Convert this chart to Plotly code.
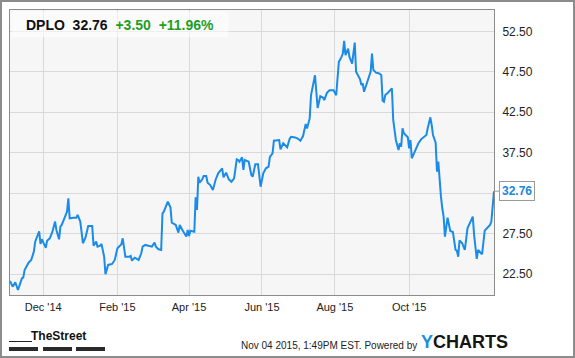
import pandas as pd
import plotly.graph_objects as go

# ---------------- data ----------------
start_date = "2014-11-04"
# day offsets from start_date (calendar days) and closing prices
day_offsets = [0, 2, 4, 6, 9, 10, 11, 14, 16, 18, 19, 21, 22, 23, 24, 26, 27, 28, 30, 32,
               34, 35, 37, 38, 39, 41, 42, 43, 44, 45, 48, 50, 51, 53, 55, 57, 59, 62, 63, 65,
               66, 68, 69, 71, 72, 74, 77, 79, 81, 83, 84, 85, 87, 90, 91, 92, 94, 95, 97, 99,
               100, 102, 105, 107, 109, 110, 112, 114, 115, 116, 119, 121, 122, 125, 127, 128, 130, 131, 133, 134,
               135, 136, 139, 140, 141, 142, 143, 145, 146, 148, 149, 151, 153, 155, 157, 160, 161, 163, 165, 167,
               169, 171, 172, 173, 175, 176, 177, 180, 182, 183, 185, 187, 189, 191, 193, 195, 196, 198, 199, 203,
               204, 206, 209, 211, 212, 215, 217, 219, 221, 223, 224, 226, 227, 230, 231, 232, 234, 236, 237, 239,
               241, 244, 246, 248, 250, 251, 252, 253, 255, 256, 258, 260, 261, 264, 265, 266, 267, 269, 271, 272,
               273, 274, 276, 278, 280, 281, 282, 283, 285, 287, 288, 289, 290, 291, 293, 294, 295, 296, 297, 298,
               300, 301, 302, 303, 305, 308, 310, 312, 314, 315, 317, 318, 319, 321, 322, 323, 324, 325, 326, 327,
               328, 330, 332, 334, 336, 337, 338, 339, 341, 343, 345, 347, 349, 350, 352, 353, 354, 356, 358, 360,
               362, 363, 364, 365]
prices = [21.67, 20.97, 21.50, 20.56, 22.00, 22.08, 23.03, 23.93, 24.27, 25.29, 26.53, 27.56, 27.80, 26.24, 26.82, 26.12, 25.78, 26.65, 26.94, 27.76,
          29.00, 27.97, 26.82, 28.38, 28.59, 29.41, 29.82, 30.23, 31.88, 29.41, 29.49, 29.49, 29.82, 29.00, 26.33, 27.07, 28.46, 28.46, 26.03, 26.53,
          25.91, 26.03, 26.24, 24.67, 22.50, 23.65, 23.77, 24.27, 25.71, 26.00, 26.20, 26.94, 24.67, 24.67, 24.76, 24.18, 24.55, 24.47, 24.27, 25.09,
          25.91, 26.12, 26.00, 25.91, 26.40, 25.91, 25.59, 25.50, 30.03, 30.23, 31.46, 30.77, 28.87, 28.59, 27.64, 28.59, 27.97, 27.64, 27.15, 27.97,
          27.23, 27.88, 27.76, 32.00, 30.44, 34.55, 33.81, 34.22, 34.63, 34.63, 33.81, 33.52, 32.90, 34.14, 34.97, 35.58, 34.47, 35.04, 34.22, 33.93,
          34.35, 36.70, 36.61, 36.40, 36.94, 35.38, 36.61, 36.40, 34.76, 34.55, 36.07, 36.07, 33.31, 34.97, 35.58, 35.78, 37.00, 37.44, 39.00, 39.08,
          37.93, 38.67, 38.18, 39.26, 39.47, 39.40, 39.26, 38.99, 39.57, 41.05, 40.50, 41.74, 44.60, 47.07, 45.43, 43.04, 44.48, 44.32, 44.00, 44.90,
          45.23, 45.23, 44.60, 48.72, 49.34, 49.75, 51.32, 49.55, 50.37, 49.34, 48.52, 51.10, 47.52, 46.56, 45.87, 46.07, 45.04, 46.07, 46.90, 47.52,
          49.75, 47.73, 47.40, 47.32, 47.11, 43.93, 43.81, 44.64, 44.92, 45.34, 45.46, 41.55, 40.31, 39.08, 37.85, 38.67, 38.26, 40.52, 39.91, 39.70,
          39.41, 38.05, 39.08, 36.82, 37.64, 38.67, 39.16, 39.49, 39.70, 40.52, 41.88, 40.93, 39.70, 38.75, 35.17, 36.40, 33.80, 32.08, 30.65, 29.61,
          27.14, 29.50, 27.85, 27.72, 25.50, 25.41, 24.67, 26.69, 26.33, 25.50, 28.18, 29.00, 29.61, 27.35, 24.39, 25.50, 25.29, 24.97, 27.88, 28.18,
          28.59, 29.00, 30.85, 32.76]

ticker = "DPLO"
last_price = 32.76
change = "+3.50"
change_pct = "+11.96%"

x_tick_dates = ["2014-11-29", "2015-01-24", "2015-03-19", "2015-05-13", "2015-07-07", "2015-09-01"]
x_tick_text = ["Dec '14", "Feb '15", "Apr '15", "Jun '15", "Aug '15", "Oct '15"]
y_tick_vals = [22.5, 27.5, 32.5, 37.5, 42.5, 47.5, 52.5]
# the 32.50 label is covered by the last-price tag in the original
y_tick_text = ["22.50", "27.50", "", "37.50", "42.50", "47.50", "52.50"]
y_range = [19.94, 55.13]

footer_text = "Nov 04 2015, 1:49PM EST. Powered by"

# ---------------- figure ----------------
dates = pd.to_datetime(start_date) + pd.to_timedelta(day_offsets, unit="D")
end_date = pd.to_datetime(start_date) + pd.Timedelta(days=365)

W, H = 575, 358
ML, MR, MT, MB = 10, 81, 10, 63
PW, PH = W - ML - MR, H - MT - MB

def px_x(px):
    return (px - ML) / PW

def px_y(py):
    return (H - MB - py) / PH

LINE_BLUE = "#1b8be8"
GREEN = "#1f9e1f"
FONT = "Liberation Sans, Arial, sans-serif"

fig = go.Figure()
fig.add_trace(go.Scatter(x=dates, y=prices, mode="lines",
                         line=dict(color=LINE_BLUE, width=2), hoverinfo="x+y",
                         showlegend=False))

fig.update_layout(
    width=W, height=H,
    margin=dict(l=ML, r=MR, t=MT, b=MB, pad=0),
    paper_bgcolor="white",
    plot_bgcolor="#f6f6f6",
    font=dict(family=FONT, color="#333333"),
    xaxis=dict(
        type="date",
        range=[pd.to_datetime(start_date), end_date],
        tickvals=pd.to_datetime(x_tick_dates), ticktext=x_tick_text,
        showgrid=True, gridcolor="#d9d9d9", gridwidth=1,
        showline=True, linecolor="#8c8c8c", linewidth=1, mirror=True,
        ticks="", tickfont=dict(size=11, color="#222222", family=FONT),
        ticklabelstandoff=2, zeroline=False, fixedrange=True,
    ),
    yaxis=dict(
        range=y_range, side="right",
        tickvals=y_tick_vals, ticktext=y_tick_text,
        showgrid=True, gridcolor="#d9d9d9", gridwidth=1,
        showline=True, linecolor="#8c8c8c", linewidth=1, mirror=True,
        ticks="", tickfont=dict(size=12, color="#222222", family=FONT),
        ticklabelstandoff=5, zeroline=False, fixedrange=True,
    ),
)

# header box
header = (f"<b>{ticker}&nbsp;&nbsp;{last_price:.2f}&nbsp;&nbsp;"
          f"<span style='color:{GREEN}'>{change}&nbsp;&nbsp;{change_pct}</span></b>")
fig.add_annotation(xref="paper", yref="paper", x=px_x(11), y=px_y(11),
                   xanchor="left", yanchor="top", text=header, showarrow=False,
                   font=dict(size=14, color="#111111", family=FONT),
                   bgcolor="rgba(255,255,255,0.55)", width=212, height=21,
                   borderpad=2, align="center")

# last value label
fig.add_annotation(x=dates[-1], y=last_price, text=f"<b>{last_price:.2f}</b>",
                   showarrow=True, ax=5, ay=0, axref="pixel", ayref="pixel",
                   arrowhead=0, arrowwidth=1, arrowcolor="#9a9a9a", standoff=0,
                   xanchor="left", font=dict(size=12, color="#1a86e0", family=FONT),
                   bgcolor="white", bordercolor="#9a9a9a", borderwidth=1, borderpad=2)

# footer texts
fig.add_annotation(xref="paper", yref="paper", x=px_x(419), y=px_y(345),
                   xanchor="right", yanchor="middle", text=footer_text, showarrow=False,
                   font=dict(size=10, color="#222222", family=FONT))
fig.add_annotation(xref="paper", yref="paper", x=px_x(419), y=px_y(341.5),
                   xanchor="left", yanchor="middle",
                   text="<b><span style='color:#1a8fe0'>Y</span>CHARTS</b>", showarrow=False,
                   font=dict(size=18, color="#151515", family=FONT))
fig.add_annotation(xref="paper", yref="paper", x=px_x(58), y=px_y(336),
                   xanchor="center", yanchor="middle",
                   text="<b>TheStreet</b>", showarrow=False,
                   font=dict(size=12, color="#111111", family=FONT))

shapes = []
# outer border
shapes.append(dict(type="rect", xref="paper", yref="paper",
                   x0=px_x(1), x1=px_x(574), y0=px_y(357), y1=px_y(1),
                   line=dict(color="#8c8c8c", width=2), fillcolor="rgba(0,0,0,0)", layer="above"))
# TheStreet logo rules
shapes.append(dict(type="line", xref="paper", yref="paper",
                   x0=px_x(9), x1=px_x(32), y0=px_y(341.5), y1=px_y(341.5),
                   line=dict(color="#222222", width=1)))
for a, b in [(9, 38), (43, 72), (76, 105)]:
    shapes.append(dict(type="rect", xref="paper", yref="paper",
                       x0=px_x(a), x1=px_x(b), y0=px_y(351), y1=px_y(347),
                       line=dict(width=0), fillcolor="#2a2a2a"))
fig.update_layout(shapes=shapes)

fig.write_html("out.html")
